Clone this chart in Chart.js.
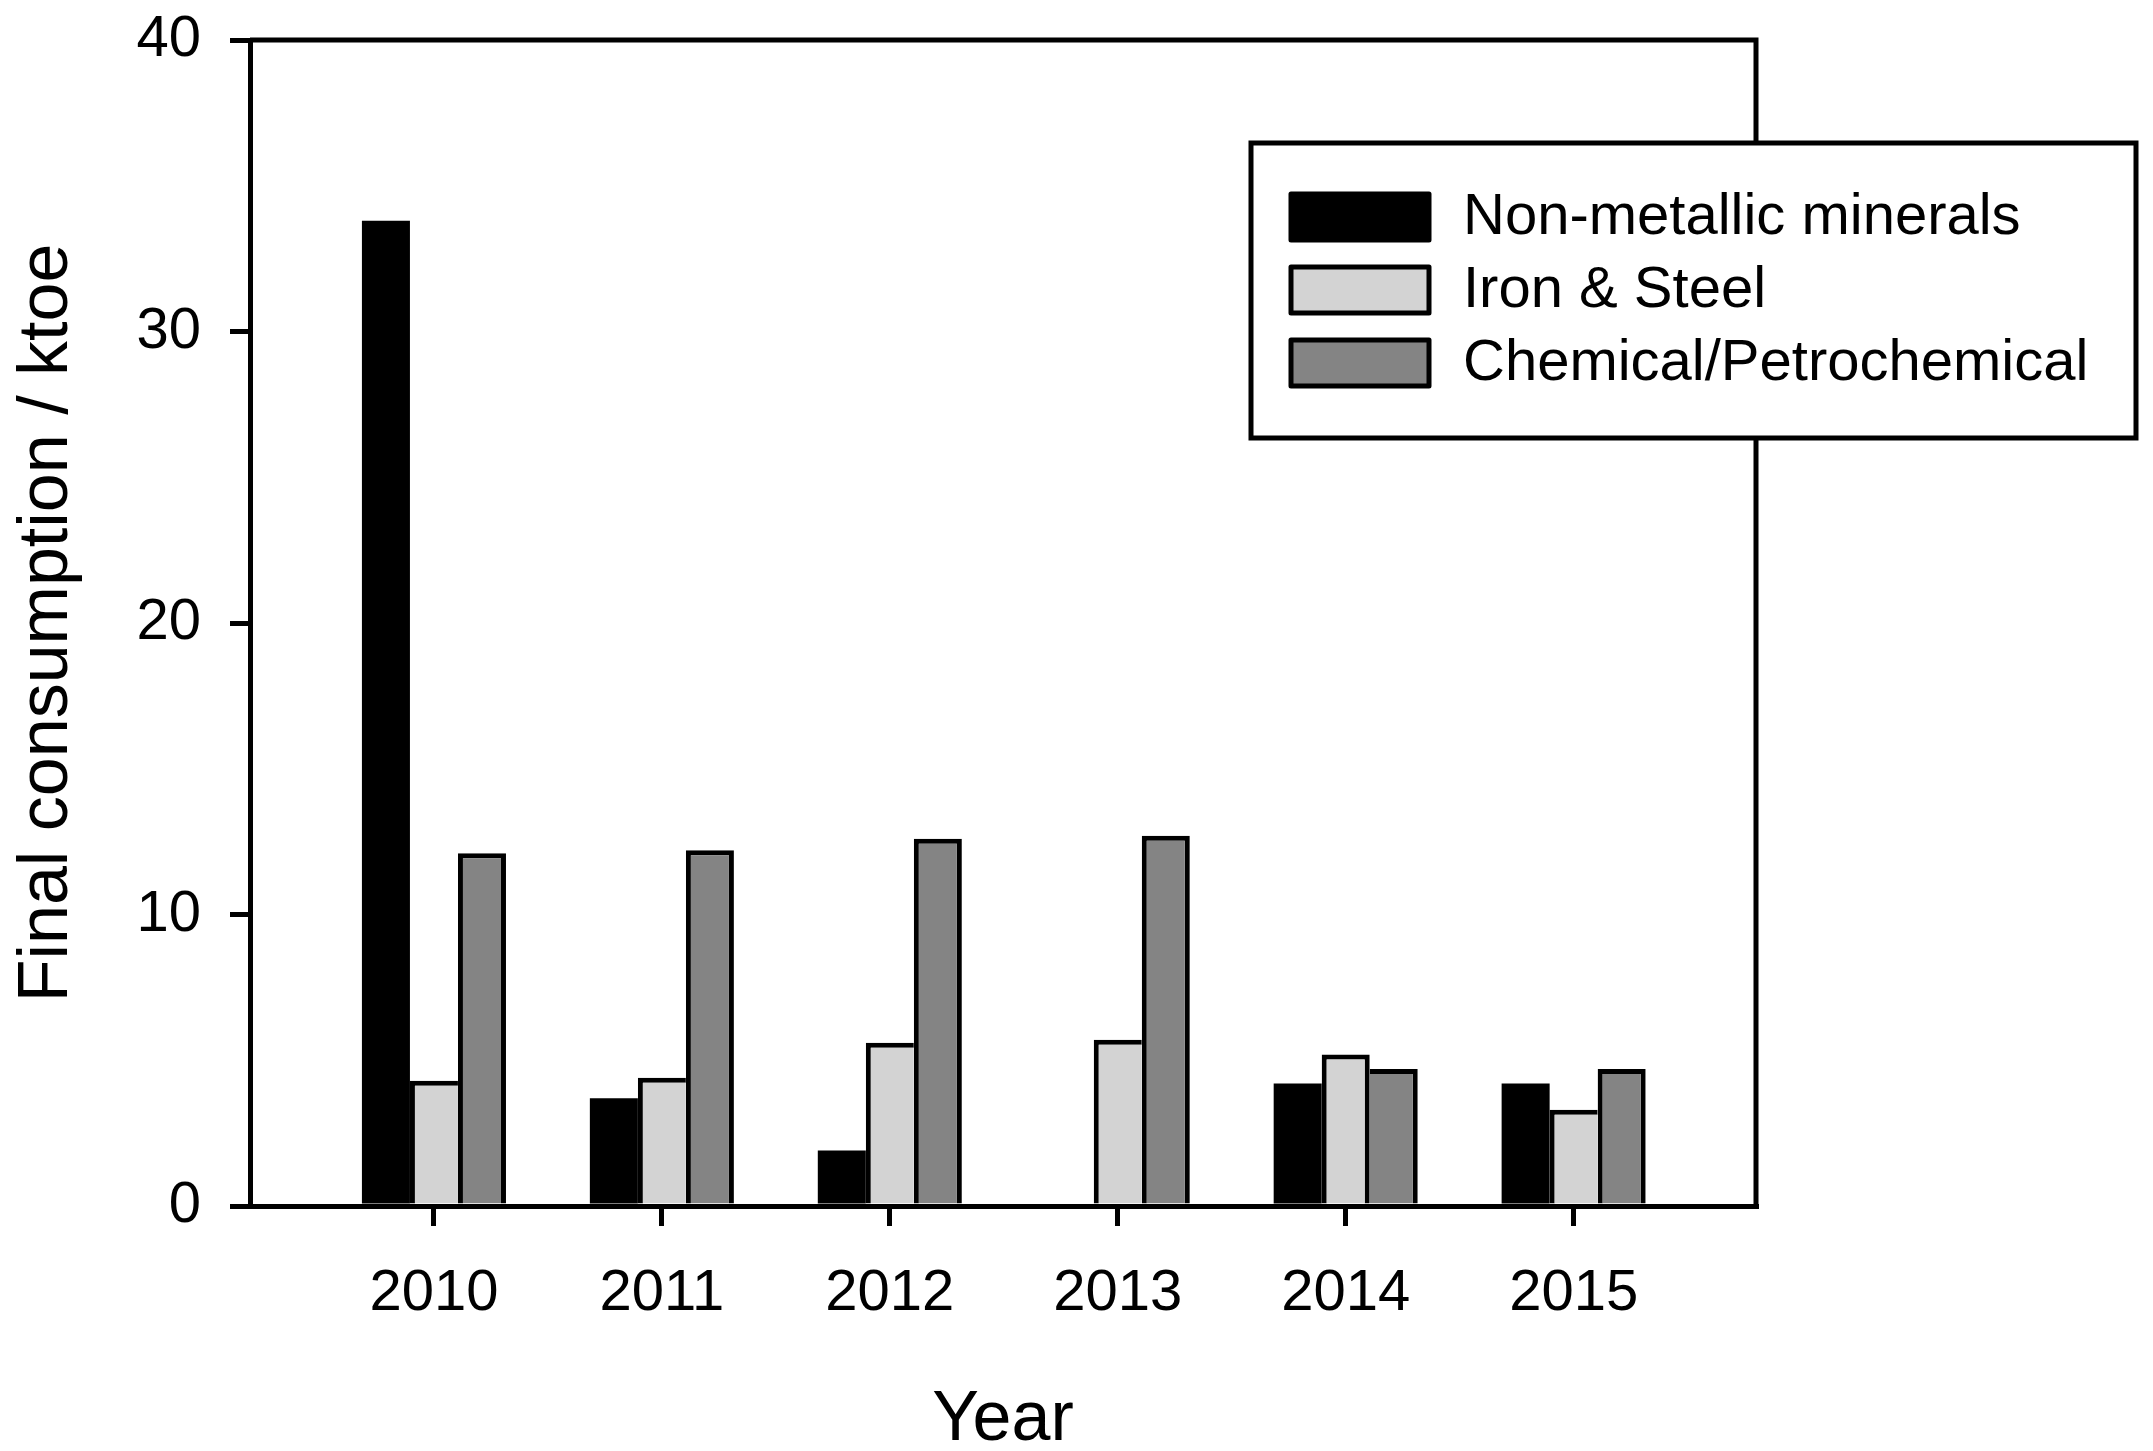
<!DOCTYPE html>
<html>
<head>
<meta charset="utf-8">
<script src="https://cdn.jsdelivr.net/npm/chart.js@4.4.0/dist/chart.umd.min.js"></script>
<style>
  html, body { margin: 0; padding: 0; background: #fff; }
  canvas { display: block; }
</style>
</head>
<body>
<canvas id="bar-chart" width="2153" height="1451"></canvas>
<script>
// values (ktoe)
var years = [2010, 2011, 2012, 2013, 2014, 2015];
var nonMetallic = [33.8, 3.7, 1.9, 0, 4.2, 4.2];
var ironSteel = [4.3, 4.4, 5.6, 5.7, 5.2, 3.3];
var chemical = [12.1, 12.2, 12.6, 12.7, 4.7, 4.7];
var yTicks = [0, 10, 20, 30, 40];

var FONT = "'Liberation Sans', Arial, sans-serif";
Chart.defaults.color = '#000';
Chart.defaults.font.family = FONT;

function points(vals) {
  return years.map(function (y, i) { return { x: y, y: vals[i] }; });
}

// light bar: right edge drawn by whichever neighbour is taller
function lightBorder(ctx) {
  var i = ctx.dataIndex || 0;
  return { top: 5, left: 5, bottom: 0, right: chemical[i] >= ironSteel[i] ? 0 : 5 };
}
function darkBorder(ctx) {
  var i = ctx.dataIndex || 0;
  return { top: 5, right: 5, bottom: 0, left: chemical[i] >= ironSteel[i] ? 5 : 0 };
}

var frame = {
  id: 'frame',
  afterDraw: function (chart) {
    var a = chart.chartArea, c = chart.ctx;
    c.save();
    c.strokeStyle = '#000';
    c.lineWidth = 5;
    c.beginPath();
    c.moveTo(a.left, a.top);
    c.lineTo(a.right, a.top);
    c.lineTo(a.right, a.bottom);
    c.stroke();
    c.restore();
  }
};

var boxLegend = {
  id: 'boxLegend',
  afterDraw: function (chart) {
    var c = chart.ctx;
    var bx = 1251, by = 143, bw = 885, bh = 295;
    c.save();
    c.fillStyle = '#fff';
    c.fillRect(bx, by, bw, bh);
    c.lineWidth = 5;
    c.strokeStyle = '#000';
    c.strokeRect(bx, by, bw, bh);
    c.lineJoin = 'round';
    c.font = '58px ' + FONT;
    c.textBaseline = 'middle';
    chart.data.datasets.forEach(function (ds, k) {
      var sy = 194 + k * 73;
      c.fillStyle = ds.backgroundColor;
      c.fillRect(1291, sy, 138, 46);
      c.strokeRect(1291, sy, 138, 46);
      c.fillStyle = '#000';
      c.fillText(ds.label, 1463, sy + 24);
    });
    c.restore();
  }
};

new Chart(document.getElementById('bar-chart'), {
  type: 'bar',
  data: {
    datasets: [{
        label: 'Non-metallic minerals',
        data: points(nonMetallic),
        backgroundColor: '#000000',
        borderWidth: 0
      }, {
        label: 'Iron & Steel',
        data: points(ironSteel),
        backgroundColor: '#d3d3d3',
        borderColor: '#000',
        borderSkipped: false,
        borderWidth: lightBorder
      }, {
        label: 'Chemical/Petrochemical',
        data: points(chemical),
        backgroundColor: '#848484',
        borderColor: '#000',
        borderSkipped: false,
        borderWidth: darkBorder
      }
    ]
  },
  options: {
    responsive: false,
    animation: false,
    devicePixelRatio: 1,
    categoryPercentage: 0.632,
    barPercentage: 1.0,
    layout: { padding: { top: 40, right: 397, left: 0, bottom: 0 } },
    plugins: { legend: { display: false }, tooltip: { enabled: false } },
    scales: {
      x: {
        type: 'linear',
        min: 2009.193,
        max: 2015.8,
        offset: false,
        afterFit: function (s) { s.height = 245; s.paddingLeft = 0; s.paddingRight = 0; },
        afterBuildTicks: function (s) {
          s.ticks = years.map(function (v) { return { value: v }; });
        },
        ticks: {
          font: { size: 58 },
          padding: 33,
          maxRotation: 0,
          callback: function (v) { return String(v); }
        },
        grid: { offset: false, drawOnChartArea: false, drawTicks: true, tickLength: 20, lineWidth: 5, color: '#000' },
        border: { display: true, width: 5, color: '#000' },
        title: { display: true, text: 'Year', font: { size: 70, lineHeight: 0.86 }, padding: 0 }
      },
      y: {
        min: 0,
        max: 40,
        afterFit: function (s) { s.width = 250; s.paddingTop = 0; s.paddingBottom = 0; },
        afterBuildTicks: function (s) {
          s.ticks = yTicks.map(function (v) { return { value: v }; });
        },
        ticks: { font: { size: 58 }, padding: 29 },
        grid: { drawOnChartArea: false, drawTicks: true, tickLength: 20, lineWidth: 5, color: '#000' },
        border: { display: true, width: 5, color: '#000' },
        title: { display: true, text: 'Final consumption / ktoe', font: { size: 70, lineHeight: 1.2 }, padding: 6 }
      }
    }
  },
  plugins: [frame, boxLegend]
});
</script>
</body>
</html>
